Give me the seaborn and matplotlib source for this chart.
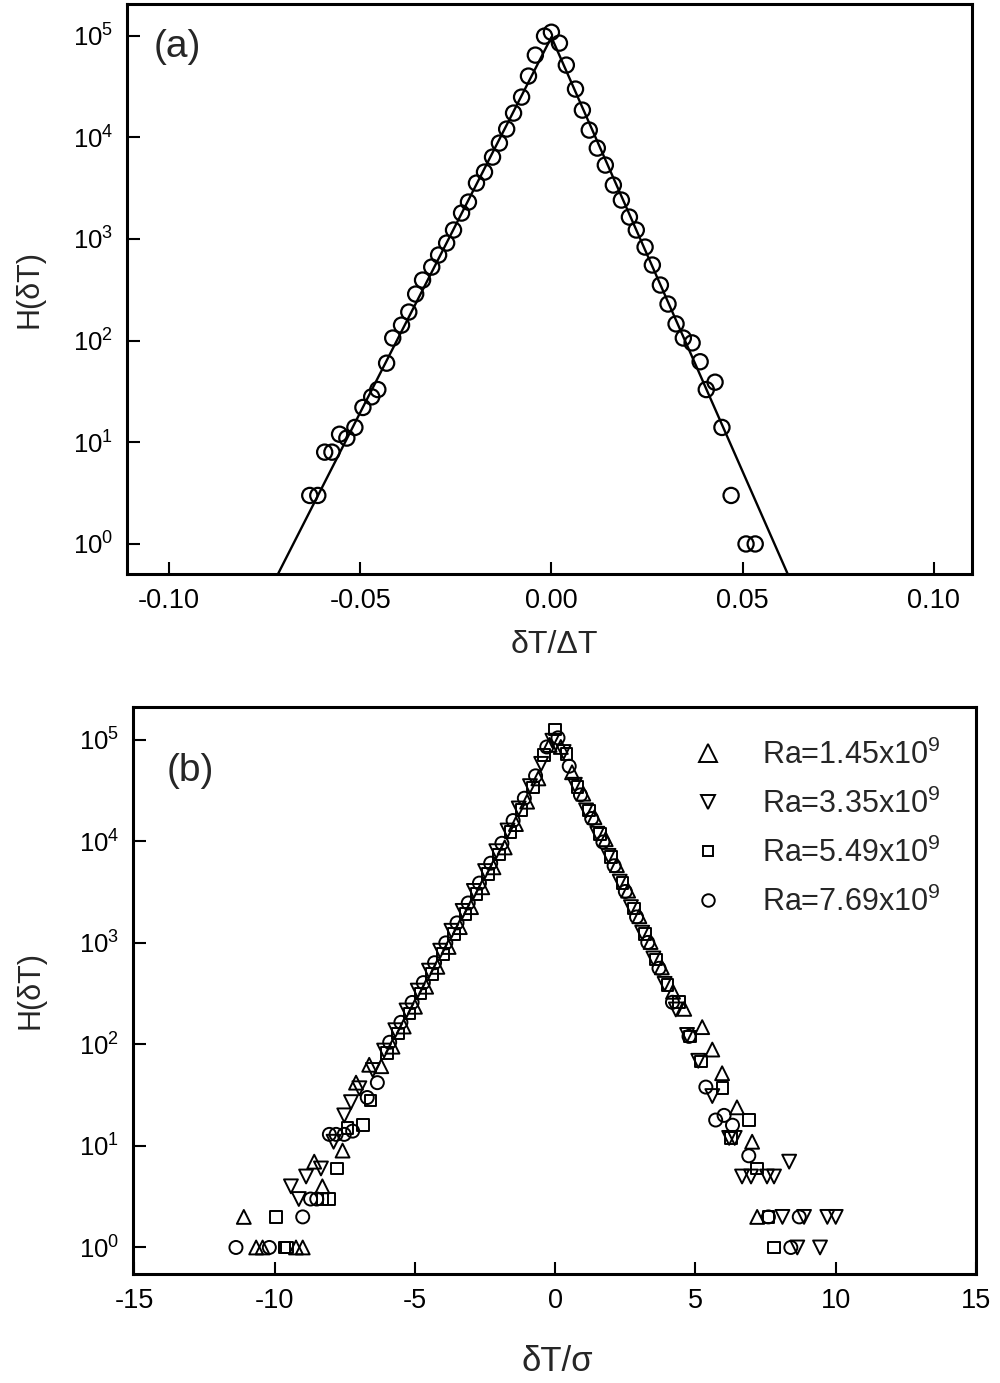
import numpy as np
import pandas as pd
import matplotlib
matplotlib.use("Agg")
import matplotlib.pyplot as plt
from matplotlib.lines import Line2D
import seaborn as sns

# ---------------- data: panel (a) ----------------
a_x = [-0.0632, -0.0611, -0.0593, -0.0574, -0.0554, -0.0535, -0.0514, -0.0493, -0.0470,
       -0.0454, -0.0431, -0.0415, -0.0392, -0.0373, -0.0355, -0.0337, -0.0313, -0.0295,
       -0.0274, -0.0256, -0.0235, -0.0217, -0.0196, -0.0175, -0.0154, -0.0136, -0.0117,
       -0.0099, -0.0078, -0.0060, -0.0042, -0.0018, 0.0000, 0.0021, 0.0039, 0.0063,
       0.0081, 0.0099, 0.0120, 0.0141, 0.0162, 0.0183, 0.0204, 0.0222, 0.0245, 0.0264,
       0.0285, 0.0305, 0.0326, 0.0345, 0.0368, 0.0389, 0.0405, 0.0428, 0.0446, 0.0470,
       0.0509, 0.0533]
a_h = [3, 3, 8, 8, 12, 11, 14, 22, 28, 33, 60, 106, 142, 191, 287, 394, 529, 695,
       911, 1224, 1798, 2306, 3545, 4548, 6385, 8770, 12050, 17300, 24850, 40000,
       64300, 98900, 108000, 84400, 51300, 29800, 18500, 11770, 7830, 5330, 3390,
       2412, 1641, 1224, 832, 554, 352, 229, 146, 106, 95, 62, 33, 39, 14, 3, 1, 1]
fit_x = [-0.075, 0.0, 0.065]
fit_h = [0.28, 96700, 0.27]
a_xticks = [-0.10, -0.05, 0.00, 0.05, 0.10]
a_xticklabels = ["-0.10", "-0.05", "0.00", "0.05", "0.10"]

# ---------------- data: panel (b) ----------------
ra_labels = ["Ra=1.45x10$^9$", "Ra=3.35x10$^9$", "Ra=5.49x10$^9$", "Ra=7.69x10$^9$"]

b1_x = [-11.1, -10.66, -10.43, -9.24, -9.0, -8.59, -8.3, -7.58, -7.1, -6.63, -6.2, -5.8,
        -5.4, -5.0, -4.6, -4.2, -3.8, -3.4, -3.0, -2.6, -2.2, -1.8, -1.4, -1.0, -0.6,
        -0.2, 0.2, 0.6, 1.0, 1.4, 1.8, 2.2, 2.6, 3.0, 3.4, 3.8, 4.2, 4.6, 5.24, 5.6,
        5.95, 6.48, 7.02, 7.2]
b1_h = [2, 1, 1, 1, 1, 7, 4, 9, 42, 63, 61, 95, 150, 235, 370, 581, 912, 1430, 2250,
        3530, 5550, 8710, 14800, 24600, 41700, 89100, 85100, 47900, 29500, 17300,
        10500, 5830, 3270, 1830, 1020, 574, 330, 224, 148, 89, 52, 24, 11, 2]

b2_x = [-9.42, -9.14, -8.88, -8.35, -7.9, -7.52, -7.28, -6.98, -6.5, -6.1, -5.7, -5.3,
        -4.9, -4.5, -4.1, -3.7, -3.3, -2.9, -2.5, -2.1, -1.7, -1.3, -0.9, -0.5, -0.1,
        0.3, 0.7, 1.1, 1.5, 1.9, 2.3, 2.7, 3.1, 3.5, 3.9, 4.3, 4.7, 5.1, 5.6, 6.2, 6.4,
        6.66, 6.98, 7.55, 7.8, 8.1, 8.34, 8.63, 8.87, 9.44, 9.7, 10.0]
b2_h = [4, 3, 5, 6, 11, 20, 27, 37, 56, 87, 138, 216, 339, 533, 838, 1316, 2066, 3250,
        5100, 8000, 12800, 21100, 35000, 58000, 98000, 75900, 36100, 20200, 11900,
        7200, 4010, 2250, 1260, 703, 395, 221, 124, 69, 31, 12, 12, 5, 5, 5, 5, 2, 7,
        1, 2, 1, 2, 2]

b3_x = [-9.95, -9.65, -9.55, -8.3, -8.07, -7.78, -7.4, -6.86, -6.58, -6.0, -5.6, -5.2,
        -4.8, -4.4, -4.0, -3.6, -3.2, -2.8, -2.4, -2.0, -1.6, -1.2, -0.8, -0.4, 0.0,
        0.4, 0.8, 1.2, 1.6, 2.0, 2.4, 2.8, 3.2, 3.6, 4.0, 4.42, 4.8, 5.2, 5.96, 6.26,
        6.91, 7.2, 7.6, 7.8]
b3_h = [2, 1, 1, 3, 3, 6, 15, 16, 28, 82, 128, 201, 316, 497, 780, 1225, 1923, 3020,
        4742, 7450, 12300, 20400, 33900, 70800, 126000, 72400, 34400, 20100, 11800,
        6970, 3890, 2180, 1220, 684, 383, 260, 120, 68, 37, 12, 18, 6, 2, 1]

b4_x = [-11.38, -10.19, -9.0, -8.72, -8.5, -8.05, -7.81, -7.52, -7.22, -6.7, -6.34,
        -5.9, -5.5, -5.1, -4.7, -4.3, -3.9, -3.5, -3.1, -2.7, -2.3, -1.9, -1.5, -1.1,
        -0.7, -0.3, 0.1, 0.5, 0.9, 1.3, 1.7, 2.1, 2.5, 2.9, 3.3, 3.7, 4.18, 4.77, 5.37,
        5.72, 6.02, 6.32, 6.9, 7.6, 8.4, 8.7]
b4_h = [1, 1, 2, 3, 3, 13, 13, 13, 14, 30, 42, 105, 165, 259, 406, 638, 1000, 1574,
        2472, 3882, 6095, 9572, 16030, 26600, 44200, 85100, 104700, 55000, 28700,
        16800, 9860, 5750, 3210, 1800, 1010, 562, 260, 120, 38, 18, 20, 16, 8, 2, 1, 2]

b_xticks = [-15, -10, -5, 0, 5, 10, 15]
decade_ticks = [1, 10, 100, 1000, 10000, 100000]
decade_labels = ["$10^{0}$", "$10^{1}$", "$10^{2}$", "$10^{3}$", "$10^{4}$", "$10^{5}$"]

# ---------------- style ----------------
sns.set_style("ticks")
plt.rcParams["font.family"] = ["Liberation Sans", "DejaVu Sans"]
plt.rcParams.update({
    "mathtext.fontset": "custom",
    "mathtext.rm": "Liberation Sans",
    "mathtext.it": "Liberation Sans:italic",
    "mathtext.bf": "Liberation Sans:bold",
    "axes.unicode_minus": False,
    "axes.linewidth": 2.0,
    "axes.edgecolor": "black",
})

fig = plt.figure(figsize=(10, 13.83), dpi=100)
ax_a = fig.add_axes([0.127, 0.585, 0.845, 0.412])
ax_b = fig.add_axes([0.133, 0.079, 0.843, 0.410])

def style_axis(ax):
    ax.set_yscale("log")
    ax.minorticks_off()
    ax.tick_params(axis="both", which="major", direction="in", length=9, width=1.5,
                   colors="black", top=False, right=False)
    ax.tick_params(axis="x", labelsize=19.5, pad=10)
    ax.tick_params(axis="y", labelsize=18.5, pad=10)
    ax.set_yticks(decade_ticks)
    ax.set_yticklabels(decade_labels)
    for s in ax.spines.values():
        s.set_visible(True)
        s.set_linewidth(2.2)
        s.set_color("black")

# ---------------- panel (a) ----------------
sns.lineplot(x=fit_x, y=fit_h, color="black", linewidth=1.7, ax=ax_a, sort=False)
sns.scatterplot(x=a_x, y=a_h, marker="o", s=120, facecolor="none", edgecolor="black",
                linewidth=1.6, ax=ax_a, zorder=3)
style_axis(ax_a)
ax_a.set_xlim(-0.111, 0.110)
ax_a.set_ylim(0.507, 2.04e5)
ax_a.set_xticks(a_xticks)
ax_a.set_xticklabels(a_xticklabels)
ax_a.set_xlabel("δT/ΔT", fontsize=23)
ax_a.xaxis.set_label_coords(0.506, -0.125)
ax_a.xaxis.label.set_va("center")
ax_a.set_ylabel("H(δT)", fontsize=22)
ax_a.yaxis.set_label_coords(-0.115, 0.5)
ax_a.yaxis.label.set_va("center")
ax_a.text(0.031, 0.925, "(a)", transform=ax_a.transAxes, fontsize=28,
          ha="left", va="center")

# ---------------- panel (b) ----------------
series = [(b1_x, b1_h, "^", 100), (b2_x, b2_h, "v", 100),
          (b3_x, b3_h, "s", 70), (b4_x, b4_h, "o", 88)]
for xs, hs, mk, sz in series:
    sns.scatterplot(x=xs, y=hs, marker=mk, s=sz, facecolor="none", edgecolor="black",
                    linewidth=1.4, ax=ax_b, zorder=3)
style_axis(ax_b)
ax_b.set_xlim(-15.05, 14.95)
ax_b.set_ylim(0.551, 2.12e5)
ax_b.set_xticks(b_xticks)
ax_b.set_xticklabels([str(t) for t in b_xticks])
ax_b.set_xlabel("δT/σ", fontsize=25)
ax_b.xaxis.set_label_coords(0.503, -0.155)
ax_b.xaxis.label.set_va("center")
ax_b.set_ylabel("H(δT)", fontsize=22)
ax_b.yaxis.set_label_coords(-0.122, 0.5)
ax_b.yaxis.label.set_va("center")
ax_b.text(0.040, 0.887, "(b)", transform=ax_b.transAxes, fontsize=28,
          ha="left", va="center")

handles = [
    Line2D([], [], linestyle="none", marker="^", markersize=13, markerfacecolor="none",
           markeredgecolor="black", markeredgewidth=1.4),
    Line2D([], [], linestyle="none", marker="v", markersize=10, markerfacecolor="none",
           markeredgecolor="black", markeredgewidth=1.4),
    Line2D([], [], linestyle="none", marker="s", markersize=7, markerfacecolor="none",
           markeredgecolor="black", markeredgewidth=1.4),
    Line2D([], [], linestyle="none", marker="o", markersize=9, markerfacecolor="none",
           markeredgecolor="black", markeredgewidth=1.4),
]
ax_b.legend(handles, ra_labels, loc="upper left", bbox_to_anchor=(0.664, 0.942),
            frameon=False, fontsize=22, handlelength=1.0, handletextpad=1.25,
            borderpad=0.0, borderaxespad=0.0, labelspacing=0.58)

fig.savefig("out.png", dpi=100)
